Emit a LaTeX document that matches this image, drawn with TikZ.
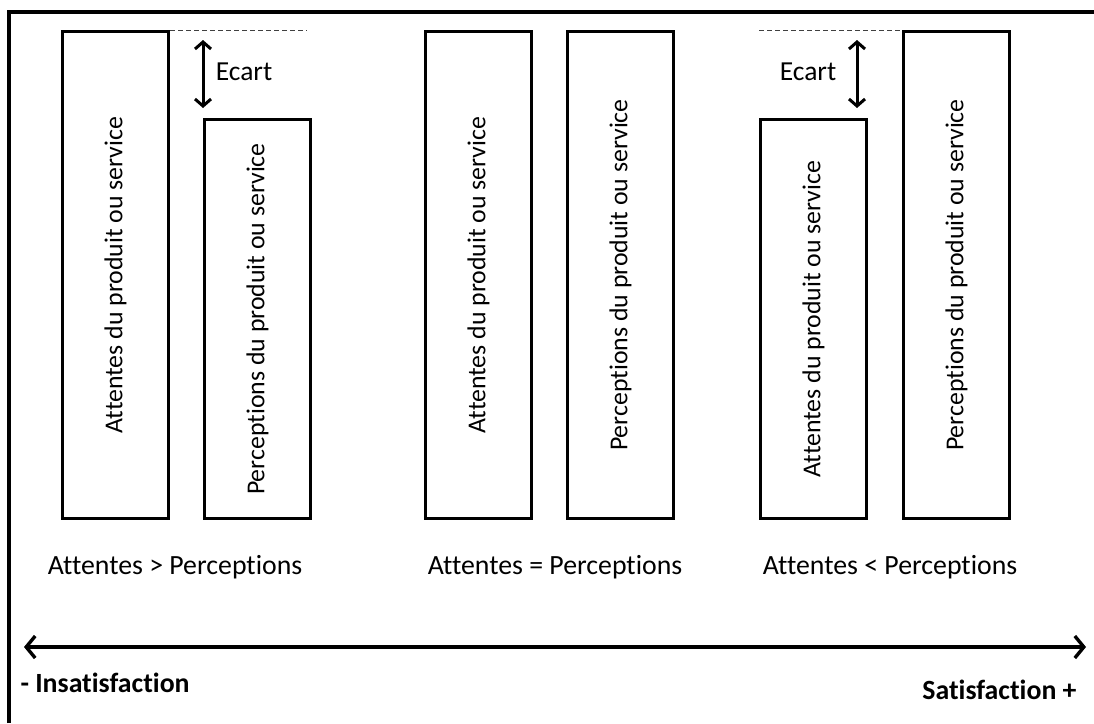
\documentclass[tikz,border=0pt]{standalone}
\usepackage{fontspec}
\setmainfont{Carlito}[Ligatures={NoCommon}]
\usetikzlibrary{arrows.meta}
\begin{document}
\begin{tikzpicture}[x=1pt,y=-1pt,
  bar/.style={draw, line width=3.2pt, anchor=north west, inner sep=0pt, minimum width=106pt},
  barlabel/.style={rotate=90, font=\fontsize{25.8}{30}\selectfont},
  caption/.style={font=\fontsize{27.8}{32}\selectfont},
  ecarttext/.style={font=\fontsize{27.5}{32}\selectfont},
  endlabel/.style={font=\fontsize{27.8}{32}\selectfont\bfseries},
  gap/.style={line width=3pt, {Straight Barb[length=7pt,width=16pt,line width=3pt]}-{Straight Barb[length=7pt,width=16pt,line width=3pt]}},
  axis/.style={line width=3.4pt, {Straight Barb[length=9pt,width=22pt,line width=3.4pt]}-{Straight Barb[length=9pt,width=22pt,line width=3.4pt]}},
  guide/.style={line width=0.9pt, black!75, dash pattern=on 5pt off 3pt},
  frame/.style={line width=3.2pt},
]
\useasboundingbox (0,0) rectangle (1094,723);
\fill[white] (0,0) rectangle (1094,723);
\draw[frame] (9,723) -- (9,12) -- (1094,12);

% left pair
\node[bar, minimum height=487pt] (a1) at (61,30) {};
\node[barlabel] (a1t) at (a1.center) {Attentes du produit ou service};
\node[bar, minimum height=399pt] (p1) at (203,118) {};
\node[barlabel] (p1t) at (p1.center) {Perceptions du produit ou service};
\coordinate (d1) at (307,30);
\draw[guide] (a1.north east) -- (d1);
\coordinate (e1t) at (203,40);
\coordinate (e1b) at (203,108);
\draw[gap] (e1t) -- (e1b);
\node[ecarttext] (e1) at (244,72) {Ecart};
\node[caption] (c1) at (175,567) {Attentes > Perceptions};

% middle pair
\node[bar, minimum height=487pt] (a2) at (424,30) {};
\node[barlabel] (a2t) at (a2.center) {Attentes du produit ou service};
\node[bar, minimum height=487pt] (p2) at (566,30) {};
\node[barlabel] (p2t) at (p2.center) {Perceptions du produit ou service};
\node[caption] (c2) at (555,567) {Attentes = Perceptions};

% right pair
\node[bar, minimum height=399pt] (a3) at (759,118) {};
\node[barlabel] (a3t) at (a3.center) {Attentes du produit ou service};
\node[bar, minimum height=487pt] (p3) at (902,30) {};
\node[barlabel] (p3t) at (p3.center) {Perceptions du produit ou service};
\coordinate (d3) at (759,30);
\draw[guide] (d3) -- (p3.north west);
\coordinate (e3t) at (857,40);
\coordinate (e3b) at (857,108);
\draw[gap] (e3t) -- (e3b);
\node[ecarttext] (e3) at (808,72) {Ecart};
\node[caption] (c3) at (890,567) {Attentes < Perceptions};

% axis
\coordinate (axl) at (24,647);
\coordinate (axr) at (1086,647);
\draw[axis] (axl) -- (axr);
\node[endlabel, anchor=west] (ins) at (17,683) {- Insatisfaction};
\node[endlabel, anchor=east] (sat) at (1080,690) {Satisfaction +};
\end{tikzpicture}
\end{document}
